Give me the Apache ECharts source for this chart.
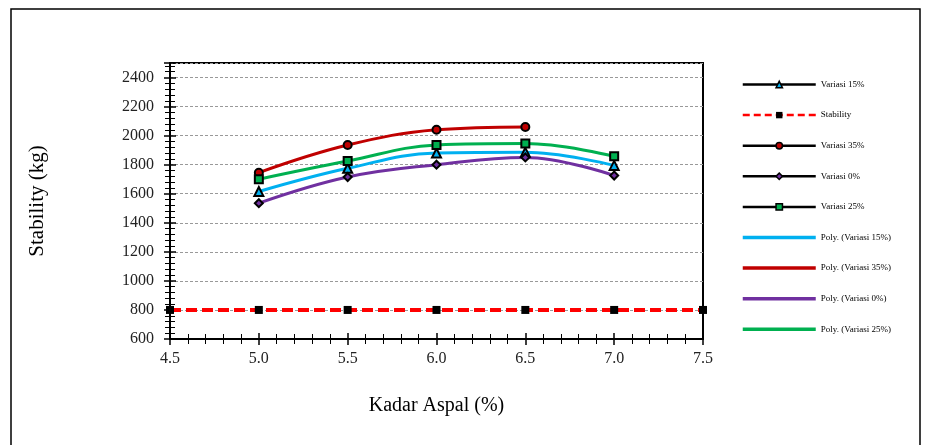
<!DOCTYPE html>
<html>
<head>
<meta charset="utf-8">
<script src="https://cdn.jsdelivr.net/npm/echarts@6/dist/echarts.min.js"></script>
<style>
  html, body { margin: 0; padding: 0; background: #fff; }
  #chart { width: 931px; height: 445px; }
</style>
</head>
<body>
<div id="chart"></div>
<script>
// data
const kadar = [5.0, 5.5, 6.0, 6.5, 7.0]
const variasi15 = [1615, 1775, 1880, 1885, 1795]
const variasi35 = [1745, 1935, 2040, 2060]
const variasi0 = [1535, 1715, 1800, 1850, 1725]
const variasi25 = [1700, 1825, 1935, 1945, 1858]
const stabilityX = [4.5, 5.0, 5.5, 6.0, 6.5, 7.0, 7.5]
const stabilityY = [800, 800, 800, 800, 800, 800, 800]

const font = 'Liberation Serif'

const pairs = (xs, ys) => ys.map((v, i) => [xs[i], v])

const chart = echarts.init(document.getElementById('chart'))

// series with markers only (black outline, coloured fill)
const markerSeries = (name, data, symbol, fill) => ({
  name: name,
  type: 'line',
  data: pairs(kadar, data),
  symbol: symbol,
  symbolSize: symbol === 'triangle' ? 9 : 8,
  showSymbol: true,
  lineStyle: { opacity: 0 },
  itemStyle: { color: fill, borderColor: '#000', borderWidth: 2 },
  z: 5
})

// trend curves
const polySeries = (name, data, color) => ({
  name: name,
  type: 'line',
  data: pairs(kadar, data),
  smooth: 0.4,
  symbol: 'none',
  lineStyle: { color: color, width: 3 },
  itemStyle: { color: color },
  z: 3
})

const dataLegend = (name) => ({
  name: name,
  lineStyle: { color: '#000', width: 2.5, opacity: 1, type: 'solid' },
  itemStyle: { borderColor: '#000', borderWidth: 1.5 }
})

const polyLegend = (name) => ({
  name: name,
  lineStyle: { width: 3.5 },
  itemStyle: { opacity: 0 }
})

const option = {
  animation: false,
  backgroundColor: '#fff',
  textStyle: { fontFamily: font, color: '#000' },
  graphic: [{
    type: 'rect',
    shape: { x: 11, y: 9, width: 909, height: 450 },
    style: { fill: 'none', stroke: '#000', lineWidth: 1.5 },
    silent: true
  }],
  grid: {
    left: 170, right: 228, top: 63, bottom: 106,
    show: true, borderColor: '#000', borderWidth: 2
  },
  legend: {
    orient: 'vertical',
    left: 736,
    top: 75,
    itemWidth: 73,
    itemHeight: 8,
    itemGap: 21.6,
    textStyle: { fontFamily: font, fontSize: 9, color: '#000' },
    data: [
      dataLegend('Variasi 15%'),
      {
        name: 'Stability',
        lineStyle: { color: '#f00', width: 2.5, type: [7, 4], opacity: 1 }
      },
      dataLegend('Variasi 35%'),
      dataLegend('Variasi 0%'),
      dataLegend('Variasi 25%'),
      polyLegend('Poly. (Variasi 15%)'),
      polyLegend('Poly. (Variasi 35%)'),
      polyLegend('Poly. (Variasi 0%)'),
      polyLegend('Poly. (Variasi 25%)')
    ]
  },
  xAxis: [
    {
      type: 'value',
      min: 4.5, max: 7.5, interval: 0.5,
      name: 'Kadar Aspal (%)',
      nameLocation: 'middle',
      nameGap: 57,
      nameTextStyle: { fontFamily: font, fontSize: 20, color: '#000' },
      axisLine: { lineStyle: { color: '#000', width: 2 } },
      axisTick: { length: 6, lineStyle: { color: '#000', width: 1.5 } },
      minorTick: { show: true, splitNumber: 5, length: 5, lineStyle: { color: '#000', width: 1 } },
      axisLabel: {
        margin: 12, fontFamily: font, fontSize: 16, color: '#222',
        formatter: (v) => v.toFixed(1)
      },
      splitLine: { show: false }
    },
    {
      type: 'value',
      position: 'bottom',
      min: 4.5, max: 7.5, interval: 0.5,
      axisLine: { show: false },
      axisTick: { inside: true, length: 6, lineStyle: { color: '#000', width: 1.5 } },
      minorTick: { show: true, splitNumber: 5, length: 5, lineStyle: { color: '#000', width: 1 } },
      axisLabel: { show: false },
      splitLine: { show: false }
    }
  ],
  yAxis: [
    {
      type: 'value',
      min: 600, max: 2500, interval: 200,
      name: 'Stability (kg)',
      nameLocation: 'middle',
      nameGap: 122,
      nameTextStyle: { fontFamily: font, fontSize: 21, color: '#000' },
      axisLine: { show: true, lineStyle: { color: '#000', width: 2 } },
      axisTick: { show: true, length: 6, lineStyle: { color: '#000', width: 1.5 } },
      minorTick: { show: true, splitNumber: 5, length: 5, lineStyle: { color: '#000', width: 1 } },
      axisLabel: {
        margin: 16, fontFamily: font, fontSize: 16, color: '#222', showMaxLabel: false,
        formatter: (v) => String(v)
      },
      splitLine: { show: true, lineStyle: { color: '#999', width: 1, type: [3, 2] } }
    },
    {
      type: 'value',
      position: 'left',
      min: 600, max: 2500, interval: 200,
      axisLine: { show: false },
      axisTick: { show: true, inside: true, length: 6, lineStyle: { color: '#000', width: 1.5 } },
      minorTick: { show: true, splitNumber: 5, length: 5, lineStyle: { color: '#000', width: 1 } },
      axisLabel: { show: false },
      splitLine: { show: false }
    }
  ],
  series: [
    polySeries('Poly. (Variasi 15%)', variasi15, '#00B0F0'),
    polySeries('Poly. (Variasi 35%)', variasi35, '#C00000'),
    polySeries('Poly. (Variasi 0%)', variasi0, '#7030A0'),
    polySeries('Poly. (Variasi 25%)', variasi25, '#00B050'),
    markerSeries('Variasi 15%', variasi15, 'triangle', '#00B0F0'),
    {
      name: 'Stability',
      type: 'line',
      data: pairs(stabilityX, stabilityY),
      symbol: 'rect',
      symbolSize: 8,
      lineStyle: { color: '#f00', width: 4, type: [11, 5] },
      itemStyle: { color: '#000' },
      z: 4
    },
    markerSeries('Variasi 35%', variasi35, 'circle', '#C00000'),
    markerSeries('Variasi 0%', variasi0, 'diamond', '#7030A0'),
    markerSeries('Variasi 25%', variasi25, 'rect', '#00B050')
  ]
}

chart.setOption(option)
</script>
</body>
</html>
